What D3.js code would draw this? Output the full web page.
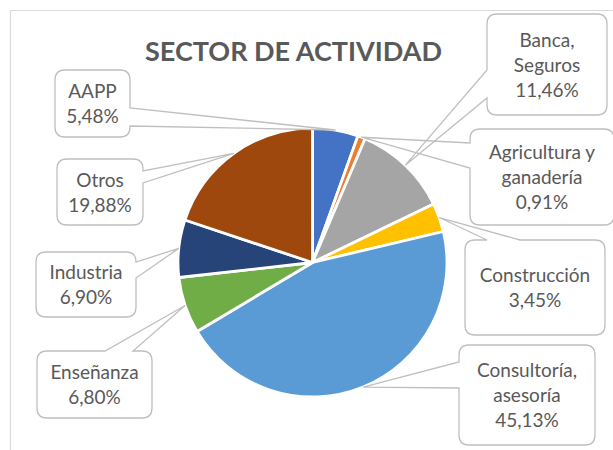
<!DOCTYPE html>
<html>
<head>
<meta charset="utf-8">
<script src="https://cdn.jsdelivr.net/npm/d3@7"></script>
<style>
    body { margin: 0; background: #fff; }
    svg { display: block; font-family: Lato, "Open Sans", sans-serif; }
</style>
</head>
<body>
<div id="chart"></div>
<script>
// data, clockwise from 12 o'clock
var sectors = ["AAPP", "Agricultura y ganadería", "Banca, Seguros", "Construcción",
               "Consultoría, asesoría", "Enseñanza", "Industria", "Otros"];
var shares = [5.48, 0.91, 11.46, 3.45, 45.13, 6.80, 6.90, 19.88];
var labelLines = [["AAPP"], ["Agricultura y", "ganadería"], ["Banca,", "Seguros"], ["Construcción"],
                  ["Consultoría,", "asesoría"], ["Enseñanza"], ["Industria"], ["Otros"]];
var colors = ["#4472C4", "#ED7D31", "#A5A5A5", "#FFC000", "#5B9BD5", "#70AD47", "#264478", "#9E480E"];

// callout boxes: [x0, y0, x1, y1, side the wedge leaves from, wedge start, wedge end]
var boxes = [
    [55, 70, 130, 137, "right", 108, 126],
    [470, 129, 614, 225, "left", 143, 168],
    [487, 14, 607, 115, "left", 70, 98],
    [465, 240, 605, 335, "top", 487, 520],
    [459, 345, 595, 445, "left", 362, 388],
    [37, 351, 152, 418, "top", 105, 133],
    [36, 252, 136, 317, "right", 262, 278],
    [57, 159, 143, 225, "right", 171, 183]
];

var width = 613, height = 450;
var cx = 312.5, cy = 262.5, radius = 134.5;

var svg = d3.select("#chart").append("svg")
    .attr("width", width)
    .attr("height", height);

// chart area border (cropped on right and bottom)
svg.append("path")
    .attr("d", "M10.5," + height + "V10.5H" + width)
    .attr("fill", "none")
    .attr("stroke", "#D9D9D9")
    .attr("stroke-width", 1.2);

svg.append("text")
    .attr("x", 293.5)
    .attr("y", 61)
    .attr("text-anchor", "middle")
    .attr("font-weight", "bold")
    .attr("font-size", "27px")
    .attr("fill", "#595959")
    .text("SECTOR DE ACTIVIDAD");

var pie = d3.pie().sort(null).value(function(d){ return d; });
var arcs = pie(shares);
var arc = d3.arc().innerRadius(0).outerRadius(radius);
var edge = d3.arc().innerRadius(radius).outerRadius(radius);

var g = svg.append("g").attr("transform", "translate(" + cx + "," + cy + ")");
g.selectAll("path.slice")
    .data(arcs)
    .enter().append("path")
    .attr("class", "slice")
    .attr("d", arc)
    .attr("fill", function(d, i){ return colors[i]; })
    .attr("stroke", "#fff")
    .attr("stroke-width", 2.8)
    .attr("stroke-linejoin", "round");

function calloutPath(b, tip) {
    var x0 = b[0], y0 = b[1], x1 = b[2], y1 = b[3], side = b[4], a = b[5], e = b[6], r = 10;
    var t = tip[0] + "," + tip[1];
    var p = "M" + (x0 + r) + "," + y0;
    if (side == "top") p += "L" + a + "," + y0 + "L" + t + "L" + e + "," + y0;
    p += "L" + (x1 - r) + "," + y0 + "Q" + x1 + "," + y0 + " " + x1 + "," + (y0 + r);
    if (side == "right") p += "L" + x1 + "," + a + "L" + t + "L" + x1 + "," + e;
    p += "L" + x1 + "," + (y1 - r) + "Q" + x1 + "," + y1 + " " + (x1 - r) + "," + y1;
    if (side == "bottom") p += "L" + e + "," + y1 + "L" + t + "L" + a + "," + y1;
    p += "L" + (x0 + r) + "," + y1 + "Q" + x0 + "," + y1 + " " + x0 + "," + (y1 - r);
    if (side == "left") p += "L" + x0 + "," + e + "L" + t + "L" + x0 + "," + a;
    p += "L" + x0 + "," + (y0 + r) + "Q" + x0 + "," + y0 + " " + (x0 + r) + "," + y0 + "Z";
    return p;
}

var fmt = d3.format(".2f");
var lh = 25;

var labels = svg.selectAll("g.callout")
    .data(arcs)
    .enter().append("g")
    .attr("class", "callout");

labels.append("path")
    .attr("d", function(d, i){
        var c = edge.centroid(d);
        return calloutPath(boxes[i], [cx + c[0], cy + c[1]]);
    })
    .attr("fill", "none")
    .attr("stroke", "#BFBFBF")
    .attr("stroke-width", 1.3);

labels.each(function(d, i){
    var b = boxes[i];
    var lines = labelLines[i].concat([fmt(shares[i]).replace(".", ",") + "%"]);
    var mx = (b[0] + b[2]) / 2, my = (b[1] + b[3]) / 2;
    var t = d3.select(this).append("text")
        .attr("text-anchor", "middle")
        .attr("font-size", "19px")
        .attr("fill", "#595959");
    lines.forEach(function(s, k){
        t.append("tspan")
            .attr("x", mx)
            .attr("y", my + (k - (lines.length - 1) / 2) * lh + 7)
            .text(s);
    });
});
</script>
</body>
</html>
